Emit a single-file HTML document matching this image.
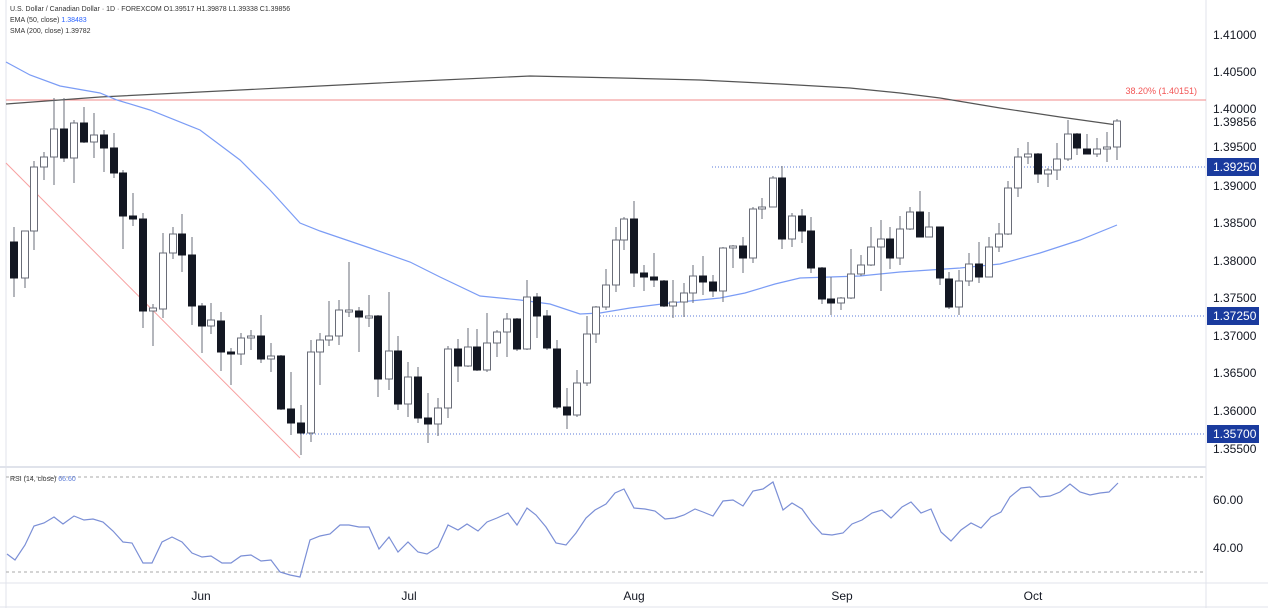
<!DOCTYPE html>
<html><head><meta charset="utf-8"><style>
body{margin:0;background:#fff;width:1268px;height:612px;overflow:hidden;font-family:"Liberation Sans",sans-serif}
svg{position:absolute;left:0;top:0}
</style></head><body>
<svg id="s" width="1268" height="612" xmlns="http://www.w3.org/2000/svg">
<rect width="1268" height="612" fill="#fff"/>
<line x1="1206" y1="0" x2="1206" y2="608" stroke="#e0e3eb"/>
<line x1="0" y1="467" x2="1206" y2="467" stroke="#e0e3eb" stroke-width="2"/>
<line x1="0" y1="583" x2="1268" y2="583" stroke="#e0e3eb"/>
<line x1="0" y1="607" x2="1268" y2="607" stroke="#e0e3eb"/>
<line x1="6" y1="0" x2="6" y2="608" stroke="#e0e3eb"/>
<!-- fib -->
<line x1="6" y1="100" x2="1206" y2="100" stroke="#f28b8b" stroke-width="1"/>
<text x="1197" y="94" font-size="9" fill="#f25555" text-anchor="end">38.20% (1.40151)</text>
<line x1="6" y1="163" x2="300" y2="458" stroke="#f7a0a0" stroke-width="1"/>
<!-- dotted levels -->
<line x1="712" y1="167" x2="1206" y2="167" stroke="#5b7bd8" stroke-dasharray="1,2"/>
<line x1="600" y1="316" x2="1206" y2="316" stroke="#5b7bd8" stroke-dasharray="1,2"/>
<line x1="300" y1="434" x2="1206" y2="434" stroke="#5b7bd8" stroke-dasharray="1,2"/>
<!-- SMA200 -->
<polyline fill="none" stroke="#555" stroke-width="1.2" points="6,104 100,97 200,92 300,87 420,81 530,76 620,78 700,80 780,84 850,88 900,93 940,98 1000,108 1060,117 1117,125"/>
<!-- EMA50 -->
<polyline fill="none" stroke="#7b9cf5" stroke-width="1.2" points="6,62 30,75 60,86 100,93 117,100 150,110 200,130 240,160 270,190 300,223 320,231 370,248 410,262 440,277 480,296 520,300 550,304 580,314 600,313 630,308 670,303 720,298 745,293 775,284 800,278 830,277 860,276 900,272 930,270 960,268 1000,264 1040,253 1080,240 1117,225"/>
<g id="c"></g>
<!-- RSI -->
<line x1="6" y1="477" x2="1206" y2="477" stroke="#aaa" stroke-dasharray="3,3"/>
<line x1="6" y1="572" x2="1206" y2="572" stroke="#aaa" stroke-dasharray="3,3"/>
<polyline fill="none" stroke="#7b8fd6" stroke-width="1.2" points="7,554 15,560 25,545 34,526 44,523 54,517 63,524 74,516 84,520 93,519 103,522 113,531 123,542 132,543 143,563 152,563 162,542 172,537 182,542 192,553 202,557 211,556 222,563 231,563 241,556 251,555 261,561 271,560 280,572 290,575 300,577 310,540 320,536 330,534 340,525 349,525 359,527 369,527 379,549 389,537 398,552 408,542 418,552 427,554 438,547 448,525 458,530 467,524 478,531 487,522 497,518 508,513 517,525 527,508 536,515 546,527 556,543 566,545 576,533 586,518 595,510 606,504 615,493 624,489 634,508 645,509 655,511 665,519 675,518 684,515 695,509 703,512 713,516 723,501 733,500 743,506 753,491 763,489 773,482 783,510 792,503 802,509 812,523 822,534 832,535 843,533 852,524 862,520 872,513 882,510 891,518 902,507 911,502 921,513 931,509 941,532 951,541 961,530 971,523 981,528 991,517 1001,512 1010,497 1021,488 1030,487 1040,497 1050,496 1060,492 1070,484 1080,492 1090,495 1100,493 1109,492 1118,483"/>
<text x="10" y="481" font-size="7" fill="#333">RSI (14, close) <tspan fill="#5b7bd8">66.60</tspan></text>
<!-- legend -->
<g font-size="7" fill="#333">
<text x="10" y="11">U.S. Dollar / Canadian Dollar · 1D · FOREXCOM  O1.39517  H1.39878  L1.39338  C1.39856</text>
<text x="10" y="22">EMA (50, close) <tspan fill="#2962ff">1.38483</tspan></text>
<text x="10" y="33">SMA (200, close)  1.39782</text>
</g>
<!-- right axis -->
<g font-size="12" fill="#131722" text-anchor="start">
<text x="1213" y="39">1.41000</text>
<text x="1213" y="76">1.40500</text>
<text x="1213" y="113">1.40000</text>
<text x="1213" y="126">1.39856</text>
<text x="1213" y="151">1.39500</text>
<text x="1213" y="190">1.39000</text>
<text x="1213" y="227">1.38500</text>
<text x="1213" y="265">1.38000</text>
<text x="1213" y="302">1.37500</text>
<text x="1213" y="340">1.37000</text>
<text x="1213" y="377">1.36500</text>
<text x="1213" y="415">1.36000</text>
<text x="1213" y="453">1.35500</text>
<text x="1213" y="504">60.00</text>
<text x="1213" y="552">40.00</text>
</g>
<rect x="1207" y="158" width="52" height="18" fill="#1a3b9e"/>
<text x="1213" y="171" font-size="12" fill="#fff">1.39250</text>
<rect x="1207" y="307" width="52" height="18" fill="#1a3b9e"/>
<text x="1213" y="320" font-size="12" fill="#fff">1.37250</text>
<rect x="1207" y="425" width="52" height="18" fill="#1a3b9e"/>
<text x="1213" y="438" font-size="12" fill="#fff">1.35700</text>
<g font-size="12" fill="#131722" text-anchor="middle">
<text x="201" y="600">Jun</text>
<text x="409" y="600">Jul</text>
<text x="634" y="600">Aug</text>
<text x="842" y="600">Sep</text>
<text x="1033" y="600">Oct</text>
</g>
</svg>
<script>
// x, bodyTop, bodyBottom, high, low, dark
var d=[[14,242,278,227,297,1],[25,231,278,231,288,0],[34,167,231,161,250,0],[44,157,167,152,180,0],[54,129,157,98,185,0],[64,129,158,98,162,1],[74,123,158,120,183,0],[84,123,142,107,143,1],[94,135,142,113,158,0],[104,135,148,130,172,1],[114,148,173,133,178,1],[123,173,216,170,249,1],[133,216,219,193,226,1],[143,219,311,213,328,1],[153,308,311,304,346,0],[163,253,309,233,318,0],[173,234,253,227,259,0],[182,234,255,214,272,1],[192,255,306,237,325,1],[202,306,326,303,353,1],[211,320,326,303,334,0],[221,321,352,312,371,1],[231,352,354,348,385,1],[241,338,354,333,365,0],[251,336,338,330,350,0],[261,336,359,315,363,1],[271,356,359,343,372,0],[281,356,409,355,410,1],[291,409,423,372,435,1],[301,423,433,405,455,1],[311,352,433,340,442,0],[320,340,352,333,385,0],[329,336,340,301,346,0],[339,310,336,300,345,0],[349,310,311,262,317,0],[359,311,317,307,352,1],[369,316,317,295,327,0],[378,316,379,315,397,1],[389,351,379,292,390,0],[398,351,404,336,410,1],[408,377,404,362,417,0],[418,377,418,367,423,1],[428,418,424,393,443,1],[438,408,424,398,436,0],[448,349,408,346,418,0],[458,349,366,339,382,1],[468,347,366,328,367,0],[477,347,370,329,371,1],[487,343,370,313,372,0],[497,332,343,330,357,0],[507,319,332,313,357,0],[517,319,349,318,351,1],[527,297,349,280,350,0],[537,297,316,293,338,1],[547,316,348,310,350,1],[557,349,407,340,409,1],[567,407,415,388,429,1],[577,383,415,370,417,0],[587,334,383,316,386,0],[596,307,334,306,343,0],[606,285,307,269,310,0],[616,240,285,227,292,0],[624,219,240,217,250,0],[634,219,273,201,287,1],[644,273,277,265,291,1],[654,277,280,253,287,1],[664,281,306,280,307,1],[673,302,306,280,318,0],[684,293,302,283,317,0],[693,276,293,265,303,0],[703,276,282,256,295,1],[713,282,291,275,297,1],[723,248,291,247,302,0],[733,246,248,245,268,0],[743,246,258,237,273,1],[753,209,258,207,263,0],[762,207,209,198,219,0],[773,178,207,176,207,0],[782,178,239,166,249,1],[792,216,239,213,247,0],[802,216,231,209,243,1],[811,231,268,217,273,1],[822,268,299,267,304,1],[831,299,303,277,315,1],[841,298,303,297,310,0],[851,274,298,249,299,0],[861,265,274,255,276,0],[871,247,265,227,266,0],[881,239,247,220,291,0],[890,239,258,227,269,1],[900,229,258,216,265,0],[910,212,229,207,230,0],[920,212,237,191,237,1],[929,227,237,212,237,0],[940,227,278,227,285,1],[949,279,307,272,309,1],[959,281,307,270,315,0],[969,264,281,253,286,0],[979,264,277,242,283,1],[989,247,277,237,277,0],[999,234,247,223,252,0],[1008,188,234,181,235,0],[1018,157,188,148,197,0],[1028,154,157,142,164,0],[1038,154,174,153,183,1],[1048,170,174,168,187,0],[1057,159,170,143,180,0],[1068,134,159,120,161,0],[1077,134,148,133,155,1],[1087,149,154,134,154,1],[1097,149,154,138,157,0],[1107,147,149,132,162,0],[1117,121,147,119,160,0]];
var h='';d.forEach(function(c){var x=c[0],t=c[1],b=Math.max(c[2],c[1]+2);
h+='<line x1="'+x+'" y1="'+c[3]+'" x2="'+x+'" y2="'+c[4]+'" stroke="#6a6d78" stroke-width="1"/>';
h+='<rect x="'+(x-3.5)+'" y="'+t+'" width="7" height="'+(b-t)+'" fill="'+(c[5]?'#131722':'#fff')+'" stroke="'+(c[5]?'#131722':'#6a6d78')+'" stroke-width="1"/>';});
document.getElementById('c').innerHTML=h;
</script>
</body></html>
